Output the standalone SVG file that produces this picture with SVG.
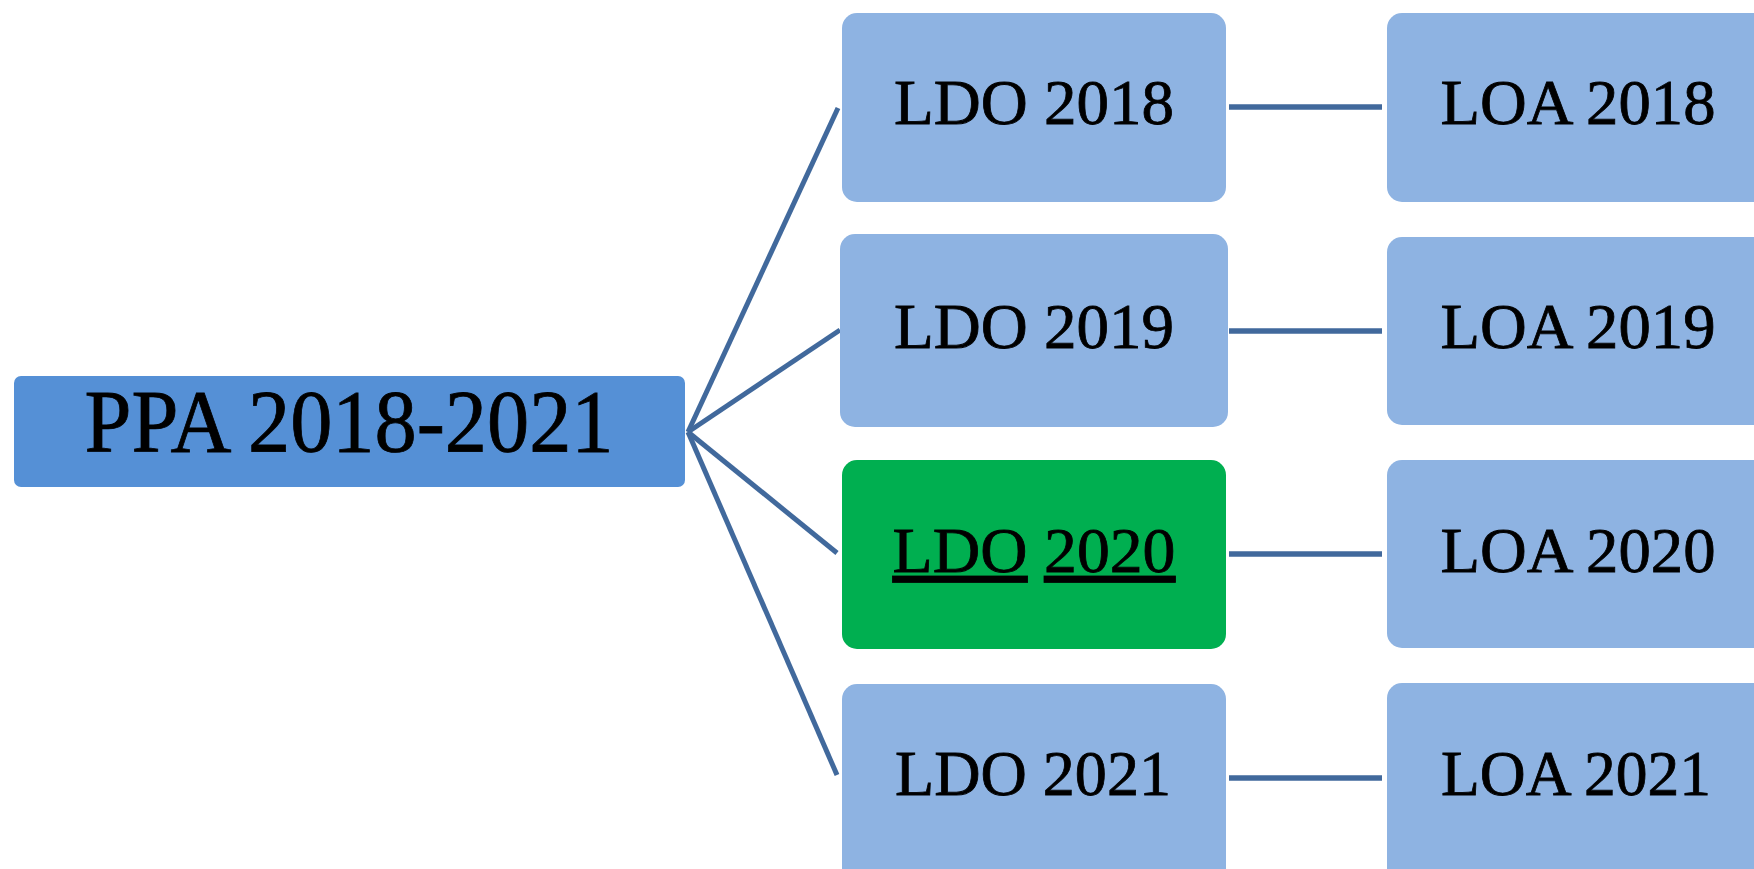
<svg xmlns="http://www.w3.org/2000/svg" width="1754" height="869" viewBox="0 0 1754 869">
<style>
.t{font-family:"Liberation Serif","Times New Roman",serif;fill:#000;stroke:#000;stroke-width:0.8;text-anchor:middle}
.ldo{fill:#8EB3E2}
.main{fill:#5590D6}
.green{fill:#00AF50}
.c{stroke:#41699C;stroke-width:5;fill:none}
.h{stroke:#41699C;stroke-width:5.5;fill:none}
</style>
<rect width="1754" height="869" fill="#fff"/>
<g id="connectors">
<line class="c" x1="688" y1="432" x2="838" y2="108"/>
<line class="c" x1="688" y1="432" x2="840" y2="330"/>
<line class="c" x1="688" y1="432" x2="837" y2="553"/>
<line class="c" x1="688" y1="432" x2="837" y2="775"/>
<line class="h" x1="1229" y1="107" x2="1382" y2="107"/>
<line class="h" x1="1229" y1="331" x2="1382" y2="331"/>
<line class="h" x1="1229" y1="554" x2="1382" y2="554"/>
<line class="h" x1="1229" y1="778" x2="1382" y2="778"/>
</g>
<g id="ppa">
<rect class="main" x="14" y="376" width="671" height="111" rx="7"/>
<text class="t" x="349" y="451" font-size="88" textLength="529" lengthAdjust="spacingAndGlyphs">PPA 2018-2021</text>
</g>
<g id="ldo2018">
<rect class="ldo" x="842" y="13" width="384" height="189" rx="15"/>
<text class="t" x="1034" y="124" font-size="64" textLength="280" lengthAdjust="spacingAndGlyphs">LDO 2018</text>
</g>
<g id="ldo2019">
<rect class="ldo" x="840" y="234" width="388" height="193" rx="15"/>
<text class="t" x="1034" y="348" font-size="64" textLength="280" lengthAdjust="spacingAndGlyphs">LDO 2019</text>
</g>
<g id="ldo2020">
<rect class="green" x="842" y="460" width="384" height="189" rx="15"/>
<text class="t" x="1034" y="572" font-size="64" textLength="283" lengthAdjust="spacingAndGlyphs"><tspan text-decoration="underline">LDO</tspan> <tspan text-decoration="underline">2020</tspan></text>
</g>
<g id="ldo2021">
<rect class="ldo" x="842" y="684" width="384" height="200" rx="15"/>
<text class="t" x="1033" y="795" font-size="64" textLength="276" lengthAdjust="spacingAndGlyphs">LDO 2021</text>
</g>
<g id="loa2018">
<rect class="ldo" x="1387" y="13" width="400" height="189" rx="15"/>
<text class="t" x="1578" y="124" font-size="64" textLength="275" lengthAdjust="spacingAndGlyphs">LOA 2018</text>
</g>
<g id="loa2019">
<rect class="ldo" x="1387" y="237" width="400" height="188" rx="15"/>
<text class="t" x="1578" y="348" font-size="64" textLength="275" lengthAdjust="spacingAndGlyphs">LOA 2019</text>
</g>
<g id="loa2020">
<rect class="ldo" x="1387" y="460" width="400" height="188" rx="15"/>
<text class="t" x="1578" y="572" font-size="64" textLength="275" lengthAdjust="spacingAndGlyphs">LOA 2020</text>
</g>
<g id="loa2021">
<rect class="ldo" x="1387" y="683" width="400" height="200" rx="15"/>
<text class="t" x="1576" y="795" font-size="64" textLength="270" lengthAdjust="spacingAndGlyphs">LOA 2021</text>
</g>
</svg>
